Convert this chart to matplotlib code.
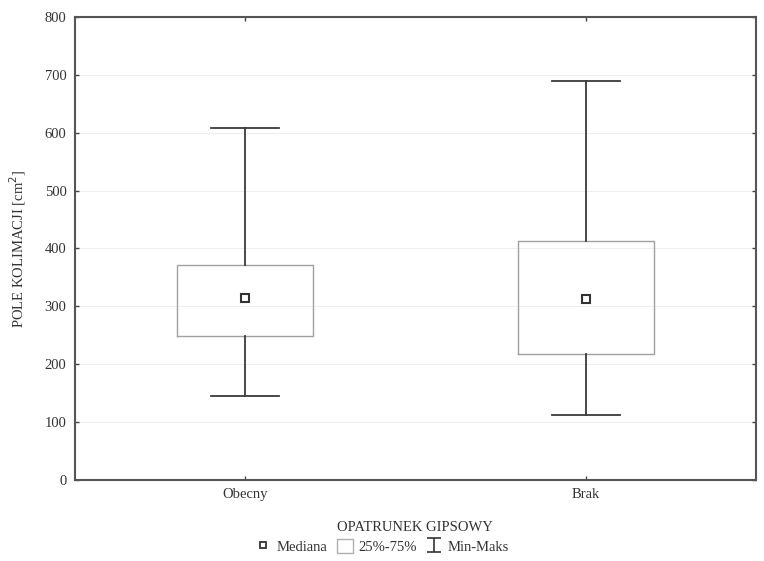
import matplotlib.pyplot as plt
from matplotlib.lines import Line2D
from matplotlib.patches import Patch

# values (cm^2)
groups = ["Obecny", "Brak"]
mins = [145, 112]
q1s = [249, 218]
medians = [314, 313]
q3s = [372, 413]
maxs = [609, 690]

plt.rcParams["font.family"] = ["Liberation Serif", "DejaVu Serif"]
plt.rcParams["font.size"] = 10.5

fig = plt.figure(figsize=(7.64, 5.61), dpi=100)
ax = fig.add_axes([0.098, 0.1444, 0.8915, 0.8253])

stats = []
for g, lo, a, m, b, hi in zip(groups, mins, q1s, medians, q3s, maxs):
    stats.append(dict(label=g, whislo=lo, q1=a, med=m, q3=b, whishi=hi,
                      mean=m, fliers=[]))

positions = [1, 2]
ax.bxp(stats, positions=positions, widths=0.40, showmeans=True,
       boxprops=dict(color="#a0a0a0", linewidth=1.0),
       whiskerprops=dict(color="#3a3a3a", linewidth=1.3),
       capprops=dict(color="#3a3a3a", linewidth=1.3),
       capwidths=0.2,
       medianprops=dict(linewidth=0),
       meanprops=dict(marker="s", markersize=5.5, markerfacecolor="white",
                      markeredgecolor="#333333", markeredgewidth=1.5),
       zorder=3)

ax.set_xlim(0.5, 2.5)
ax.set_ylim(0, 800)
ax.set_yticks(range(0, 801, 100))
ax.set_xticks(positions)
ax.set_xticklabels(groups)
ax.yaxis.grid(True, color="#eeeeee", linewidth=0.8)
ax.set_axisbelow(True)

for s in ax.spines.values():
    s.set_color("#555555")
    s.set_linewidth(1.5)
ax.tick_params(direction="in", length=3, width=1, color="#444444",
               top=True, right=True, labelcolor="#333333", pad=6)

ax.set_ylabel("POLE KOLIMACJI [cm$^2$]", color="#333333", labelpad=12)
ax.set_xlabel("OPATRUNEK GIPSOWY", color="#333333", labelpad=14)

# legend
h_med = Line2D([], [], linestyle="none", marker="s", markersize=5,
               markerfacecolor="white", markeredgecolor="#333333",
               markeredgewidth=1.3)
h_box = Patch(facecolor="white", edgecolor="#b0b0b0", linewidth=1.0)
h_rng = ax.errorbar([-10], [-10], yerr=[1], fmt="none", ecolor="#333333",
                    elinewidth=1.2, capsize=5, capthick=1.2)
fig.legend([h_med, h_box, h_rng], ["Mediana", "25%-75%", "Min-Maks"],
           loc="center", bbox_to_anchor=(0.5, 0.026), ncol=3, frameon=False,
           handlelength=1.1, handleheight=1.1, handletextpad=0.4,
           columnspacing=0.6, labelcolor="#333333", fontsize=10.5)

fig.savefig("out.png", dpi=100)
